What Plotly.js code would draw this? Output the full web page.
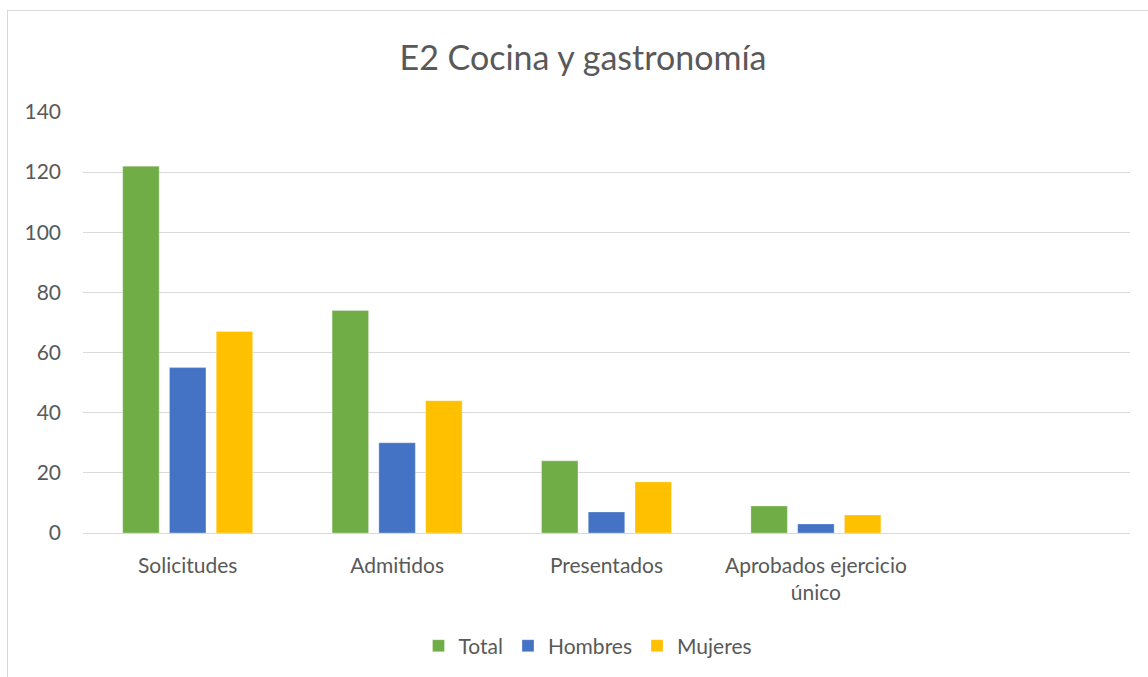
<!DOCTYPE html>
<html>
<head>
<meta charset="utf-8">
<script src="https://cdn.plot.ly/plotly-3.0.1.min.js"></script>
<style>
html,body{margin:0;padding:0;background:#fff;overflow:hidden;}
#frame{position:absolute;left:7px;top:10px;width:1300px;height:800px;border:1px solid #d9d9d9;box-sizing:border-box;}
#chart{position:absolute;left:0;top:0;width:1148px;height:677px;}
</style>
</head>
<body>
<div id="frame"></div>
<div id="chart"></div>
<script>
const categories = ["Solicitudes", "Admitidos", "Presentados", "Aprobados ejercicio<br>único"];
const total = [122, 74, 24, 9];
const hombres = [55, 30, 7, 3];
const mujeres = [67, 44, 17, 6];
const yTicks = [0, 20, 40, 60, 80, 100, 120, 140];

const font = "Lato, 'Open Sans', sans-serif";
const txt = "#595959";

function tr(name, vals, color) {
  return {type: "bar", name: name, x: categories, y: vals,
    marker: {color: color, line: {color: "rgba(255,255,255,0.6)", width: 0.5}},
    hoverinfo: "none"};
}

const data = [
  tr("Total", total, "#70AD47"),
  tr("Hombres", hombres, "#4472C4"),
  tr("Mujeres", mujeres, "#FFC000")
];

const layout = {
  width: 1148, height: 677,
  paper_bgcolor: "rgba(0,0,0,0)", plot_bgcolor: "rgba(0,0,0,0)",
  margin: {l: 83, r: 18, t: 112, b: 144, autoexpand: false},
  font: {family: font, color: txt, size: 21},
  title: {text: "E2 Cocina y gastronomía", xref: "paper", x: (583-83)/1047, xanchor: "center",
    y: 1 - 58/677, yanchor: "middle",
    font: {family: font, size: 34, color: txt}},
  barmode: "group", bargap: 0.33, bargroupgap: 0.22,
  xaxis: {type: "category", categoryorder: "array", categoryarray: categories,
    range: [-0.5, 4.5], showgrid: false, zeroline: false, showline: false, ticks: "",
    tickangle: 0, automargin: false,
    ticklabelstandoff: 18, tickfont: {size: 21, color: txt, family: font}, fixedrange: true},
  yaxis: {range: [0, 140], tickvals: yTicks, ticktext: yTicks.map(String), showgrid: true,
    automargin: false,
    gridcolor: "#d9d9d9", gridwidth: 1, zeroline: true, zerolinecolor: "#d9d9d9", zerolinewidth: 1,
    showline: false, ticks: "", ticklabelstandoff: 21, tickfont: {size: 21, color: txt, family: font}, fixedrange: true},
  legend: {orientation: "h", xref: "paper", x: (588-83)/1047, xanchor: "center", y: (533-646)/421, yanchor: "middle",
    font: {size: 21, color: txt, family: font}, itemwidth: 20, traceorder: "normal"},
  showlegend: true
};

Plotly.newPlot("chart", data, layout, {displayModeBar: false, staticPlot: true});
</script>
</body>
</html>
